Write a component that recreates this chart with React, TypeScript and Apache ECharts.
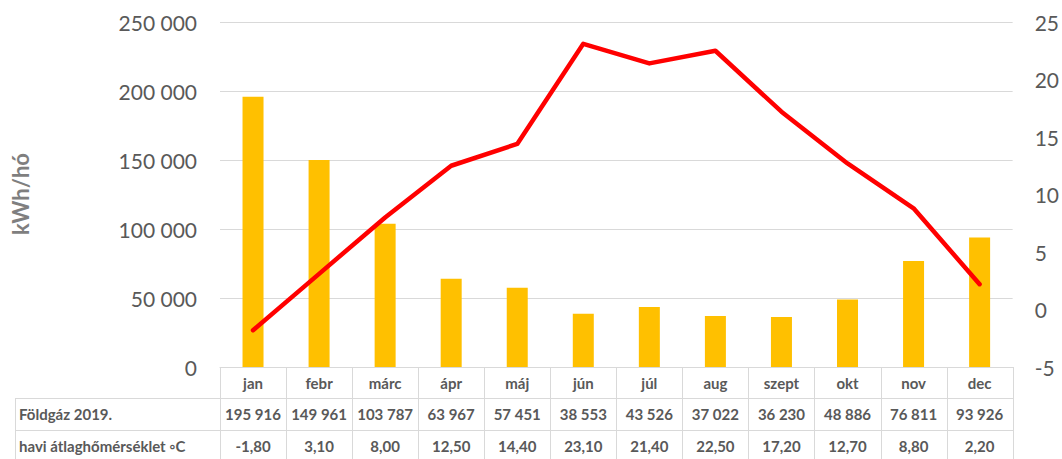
import React, { useEffect, useRef } from "react";
import * as echarts from "echarts";

const months = ["jan", "febr", "márc", "ápr", "máj", "jún", "júl", "aug", "szept", "okt", "nov", "dec"];
const gas = [195916, 149961, 103787, 63967, 57451, 38553, 43526, 37022, 36230, 48886, 76811, 93926];
const temp = [-1.8, 3.1, 8.0, 12.5, 14.4, 23.1, 21.4, 22.5, 17.2, 12.7, 8.8, 2.2];
const gasLabel = "Földgáz 2019.";
const tempLabel = "havi átlaghőmérséklet ◦C";
const yTitle = "kWh/hó";

const FONT = "Lato, 'Open Sans', sans-serif";
const TXT = "#595959";
const LINE = "#d9d9d9";

const fmtThousands = (n: number) => String(n).replace(/\B(?=(\d{3})+(?!\d))/g, " ");
const fmtTemp = (n: number) => n.toFixed(2).replace(".", ",");

export default function App() {
  const ref = useRef<HTMLDivElement>(null);
  useEffect(() => {
    if (!ref.current) return;
    const chart = echarts.init(ref.current, null, { renderer: "svg" });
    const tableAxis = (data: string[], offset: number) => ({
      type: "category",
      position: "bottom",
      offset,
      data,
      boundaryGap: true,
      axisLine: { show: offset === 0, lineStyle: { color: LINE, width: 1 } },
      axisTick: { show: false },
      axisLabel: {
        margin: 8,
        color: TXT,
        fontFamily: FONT,
        fontWeight: "bold",
        fontSize: 15,
        interval: 0,
      },
      splitLine: { show: false },
    });
    chart.setOption({
      animation: false,
      grid: { left: 220, right: 44, top: 22, bottom: 92, containLabel: false },
      xAxis: [
        tableAxis(months, 0),
        tableAxis(gas.map(fmtThousands), 31),
        tableAxis(temp.map(fmtTemp), 63),
      ],
      yAxis: [
        {
          type: "value",
          min: 0,
          max: 250000,
          interval: 50000,
          axisLine: { show: false },
          axisTick: { show: false },
          axisLabel: { color: TXT, fontFamily: FONT, fontSize: 21, margin: 23, formatter: (v: number) => fmtThousands(v) },
          splitLine: { show: true, lineStyle: { color: LINE, width: 1 } },
        },
        {
          type: "value",
          min: -5,
          max: 25,
          interval: 5,
          axisLine: { show: false },
          axisTick: { show: false },
          axisLabel: { color: TXT, fontFamily: FONT, fontSize: 21, margin: 22 },
          splitLine: { show: false },
        },
      ],
      series: [
        {
          type: "bar",
          data: gas,
          xAxisIndex: 0,
          yAxisIndex: 0,
          barWidth: 21,
          itemStyle: { color: "#FFC000" },
        },
        {
          type: "line",
          data: temp,
          xAxisIndex: 0,
          yAxisIndex: 1,
          showSymbol: false,
          symbol: "none",
          lineStyle: { color: "#FF0000", width: 4.5, join: "round", cap: "round" },
          z: 5,
        },
      ],
    });

    // table grid lines, derived from the category axis scale
    const c0 = chart.convertToPixel({ xAxisIndex: 0 }, 0) as number;
    const c1 = chart.convertToPixel({ xAxisIndex: 0 }, 1) as number;
    const step = c1 - c0;
    const yTop = chart.convertToPixel({ yAxisIndex: 0 }, 0) as number;
    const row1 = yTop + 31;
    const row2 = yTop + 63;
    const bottom = 460;
    const leftX = c0 - step / 2;
    const rightX = leftX + step * months.length;
    const lineStyle = { stroke: LINE, lineWidth: 1 };
    const graphics: any[] = [];
    for (let i = 0; i <= months.length; i++) {
      const x = Math.round(leftX + i * step) + 0.5;
      graphics.push({ type: "line", silent: true, shape: { x1: x, y1: yTop, x2: x, y2: bottom }, style: lineStyle });
    }
    graphics.push({ type: "line", shape: { x1: 15, y1: Math.round(row1) + 0.5, x2: Math.round(rightX) + 1, y2: Math.round(row1) + 0.5 }, style: lineStyle });
    graphics.push({ type: "line", shape: { x1: 15, y1: Math.round(row2) + 0.5, x2: Math.round(rightX) + 1, y2: Math.round(row2) + 0.5 }, style: lineStyle });
    graphics.push({ type: "line", shape: { x1: 15.5, y1: Math.round(row1), x2: 15.5, y2: bottom }, style: lineStyle });
    graphics.push({
      type: "text",
      x: 19,
      y: (row1 + row2) / 2,
      style: { text: gasLabel, fill: TXT, font: `bold 15px ${FONT}`, verticalAlign: "middle", align: "left" },
    });
    graphics.push({
      type: "text",
      x: 19,
      y: row2 + 16,
      style: { text: tempLabel, fill: TXT, font: `bold 15px ${FONT}`, verticalAlign: "middle", align: "left" },
    });
    graphics.push({
      type: "text",
      x: 20,
      y: 194,
      rotation: Math.PI / 2,
      style: { text: yTitle, fill: "#7f7f7f", font: `bold 22px ${FONT}`, verticalAlign: "middle", align: "center" },
    });
    chart.setOption({ graphic: graphics });
    return () => chart.dispose();
  }, []);
  return <div ref={ref} style={{ position: "absolute", left: 0, top: 0, width: 1062, height: 459 }} />;
}
